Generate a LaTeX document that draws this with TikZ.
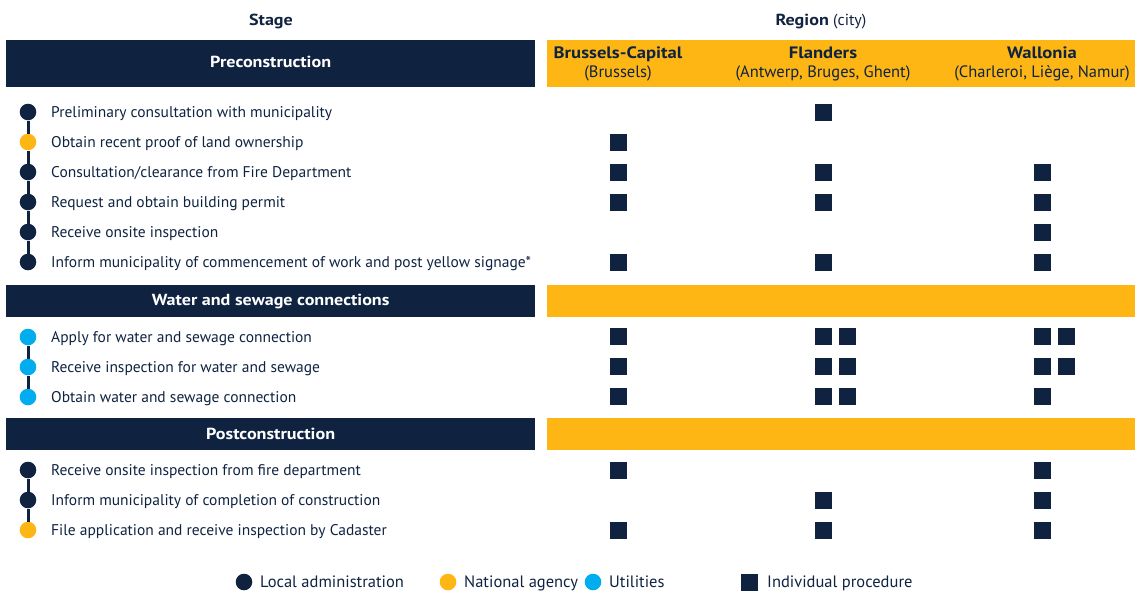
\documentclass[tikz,border=0pt]{standalone}
\usepackage{fontspec}
\setmainfont{PT Sans}[BoldFeatures={FakeStretch=1.13}]
\usetikzlibrary{positioning}
\definecolor{navy}{HTML}{0F2341}
\definecolor{gold}{HTML}{FDB614}
\definecolor{sky}{HTML}{00AEEF}
\tikzset{
  bar/.style={fill=navy,text=white,anchor=north west,inner sep=0pt,font=\bfseries\fontsize{16}{19}\selectfont},
  goldbar/.style={fill=gold,anchor=north west,inner sep=0pt},
  head/.style={text=navy,inner sep=0pt,font=\fontsize{16}{19}\selectfont},
  region/.style={text=navy,inner sep=0pt,align=center,font=\fontsize{16.5}{19}\selectfont},
  stepname/.style={text=navy,anchor=base west,inner sep=0pt,yshift=-5.5pt,font=\fontsize{15.5}{19}\selectfont},
  legname/.style={stepname,yshift=-0.3pt,font=\fontsize{16.5}{19}\selectfont},
  dot/.style={circle,fill=#1,inner sep=0pt,minimum size=16.6pt},
  box/.style={fill=navy,inner sep=0pt,minimum size=17pt},
}
\begin{document}
\begin{tikzpicture}[x=1pt,y=-1pt]
        \useasboundingbox (0,0) rectangle (1135,592);
        % column headers
        \node[head] at (271,21.5) (stagehead) {\bfseries Stage};
        \node[head] at (821,21.5) (regionhead) {\textbf{Region} (city)};
        % section bars
        \node[bar,minimum width=529pt,minimum height=47pt] at (6,40) (pre) {\raisebox{3pt}{Preconstruction}};
        \node[goldbar,minimum width=588pt,minimum height=47pt] at (547,40) (preg) {};
        \node[bar,minimum width=529pt,minimum height=32pt] at (6,285) (water) {Water and sewage connections};
        \node[goldbar,minimum width=588pt,minimum height=32pt] at (547,285) (waterg) {};
        \node[bar,minimum width=529pt,minimum height=32pt] at (6,418) (post) {Postconstruction};
        \node[goldbar,minimum width=588pt,minimum height=32pt] at (547,418) (postg) {};
        % regions
        \node[region] at (618,64) (bru) {\textbf{Brussels-Capital}\\(Brussels)};
        \node[region] at (823,64) (fla) {\textbf{Flanders}\\(Antwerp, Bruges, Ghent)};
        \node[region] at (1042,64) (wal) {\textbf{Wallonia}\\(Charleroi, Liège, Namur)};
        % preconstruction steps
        \node[dot=navy] at (28,112) (d1) {};
        \node[dot=gold] at (28,142) (d2) {};
        \node[dot=navy] at (28,172) (d3) {};
        \node[dot=navy] at (28,202) (d4) {};
        \node[dot=navy] at (28,232) (d5) {};
        \node[dot=navy] at (28,262) (d6) {};
        \node[stepname] at (51,112) (s1) {Preliminary consultation with municipality};
        \node[stepname] at (51,142) (s2) {Obtain recent proof of land ownership};
        \node[stepname] at (51,172) (s3) {Consultation/clearance from Fire Department};
        \node[stepname] at (51,202) (s4) {Request and obtain building permit};
        \node[stepname] at (51,232) (s5) {Receive onsite inspection};
        \node[stepname] at (51,262) (s6) {Inform municipality of commencement of work and post yellow signage*};
        % water steps
        \node[dot=sky] at (28,337) (d7) {};
        \node[dot=sky] at (28,367) (d8) {};
        \node[dot=sky] at (28,397) (d9) {};
        \node[stepname] at (51,337) (s7) {Apply for water and sewage connection};
        \node[stepname] at (51,367) (s8) {Receive inspection for water and sewage};
        \node[stepname] at (51,397) (s9) {Obtain water and sewage connection};
        % postconstruction steps
        \node[dot=navy] at (28,470) (d10) {};
        \node[dot=navy] at (28,500) (d11) {};
        \node[dot=gold] at (28,530) (d12) {};
        \node[stepname] at (51,470) (s10) {Receive onsite inspection from fire department};
        \node[stepname] at (51,500) (s11) {Inform municipality of completion of construction};
        \node[stepname] at (51,530) (s12) {File application and receive inspection by Cadaster};
        \path[draw=navy, line width=3pt]
        (d1) edge (d2) (d2) edge (d3) (d3) edge (d4) (d4) edge (d5) (d5) edge (d6)
        (d7) edge (d8) (d8) edge (d9)
        (d10) edge (d11) (d11) edge (d12)
        ;
        % procedures
        \node[box] at (823.5,112) (f1) {};
        \node[box] at (618.5,142) (b2) {};
        \node[box] at (618.5,172) (b3) {};
        \node[box] at (823.5,172) (f3) {};
        \node[box] at (1042.5,172) (w3) {};
        \node[box] at (618.5,202) (b4) {};
        \node[box] at (823.5,202) (f4) {};
        \node[box] at (1042.5,202) (w4) {};
        \node[box] at (1042.5,232) (w5) {};
        \node[box] at (618.5,262) (b6) {};
        \node[box] at (823.5,262) (f6) {};
        \node[box] at (1042.5,262) (w6) {};
        \node[box] at (618.5,336.5) (b7) {};
        \node[box] at (823.5,336.5) (f7) {};
        \node[box] at (847.5,336.5) (f7b) {};
        \node[box] at (1042.5,336.5) (w7) {};
        \node[box] at (1066.5,336.5) (w7b) {};
        \node[box] at (618.5,366.5) (b8) {};
        \node[box] at (823.5,366.5) (f8) {};
        \node[box] at (847.5,366.5) (f8b) {};
        \node[box] at (1042.5,366.5) (w8) {};
        \node[box] at (1066.5,366.5) (w8b) {};
        \node[box] at (618.5,396.5) (b9) {};
        \node[box] at (823.5,396.5) (f9) {};
        \node[box] at (847.5,396.5) (f9b) {};
        \node[box] at (1042.5,396.5) (w9) {};
        \node[box] at (618.5,470) (b10) {};
        \node[box] at (1042.5,470) (w10) {};
        \node[box] at (823.5,500) (f11) {};
        \node[box] at (1042.5,500) (w11) {};
        \node[box] at (618.5,530) (b12) {};
        \node[box] at (823.5,530) (f12) {};
        \node[box] at (1042.5,530) (w12) {};
        % legend
        \node[dot=navy] at (244,582) (leglocal) {};
        \node[legname] at (260,582) (leglocalt) {Local administration};
        \node[dot=gold] at (448,582) (legnat) {};
        \node[legname] at (464,582) (legnatt) {National agency};
        \node[dot=sky] at (593,582) (legutil) {};
        \node[legname] at (609,582) (legutilt) {Utilities};
        \node[box] at (749.5,582) (legproc) {};
        \node[legname] at (767,582) (legproct) {Individual procedure};
    \end{tikzpicture}
\end{document}
